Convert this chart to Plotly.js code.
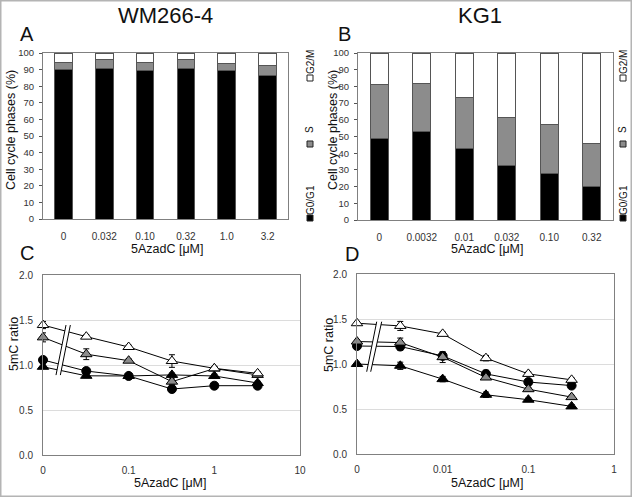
<!DOCTYPE html>
<html><head><meta charset="utf-8">
<script src="https://cdn.plot.ly/plotly-3.0.1.min.js"></script>
<style>html,body{margin:0;padding:0;background:#fff}#c{width:632px;height:497px}</style>
</head><body><div id="c"></div>
<script>
// ---- Data ----
const catsA = ["0","0.032","0.10","0.32","1.0","3.2"];
const g1A = [90.0, 90.8, 89.2, 90.4, 89.4, 86.5];
const sA  = [4.4, 5.4, 5.2, 5.6, 4.0, 5.7];
const g2A = [5.6, 3.8, 5.6, 4.0, 6.6, 7.8];

const catsB = ["0","0.0032","0.01","0.032","0.10","0.32"];
const g1B = [49.0, 53.0, 43.0, 32.4, 27.6, 20.0];
const sB  = [32.0, 28.6, 30.6, 29.0, 29.8, 25.6];
const g2B = [19.0, 18.4, 26.4, 38.6, 42.6, 54.4];

const doseC = [0, 0.032, 0.1, 0.32, 1, 3.2];
const cWhiteTri = [1.444, 1.315, 1.20, 1.044, 0.963, 0.907];
const cWhiteTriErr = [0.04, 0.02, 0.02, 0.07, 0.02, 0.02];
const cGrayTri = [1.307, 1.12, 1.048, 0.815, 0.96, 0.89];
const cGrayTriErr = [0.05, 0.06, 0.02, 0.03, 0.02, 0.02];
const cCircle = [1.056, 0.933, 0.878, 0.733, 0.77, 0.77];
const cCircleErr = [0.03, 0.02, 0.02, 0.02, 0.01, 0.02];
const cBlackTri = [0.98, 0.88, 0.878, 0.89, 0.878, 0.80];
const cBlackTriErr = [0.02, 0.02, 0.02, 0.02, 0.02, 0.02];

const doseD = [0, 0.0032, 0.01, 0.032, 0.1, 0.32];
const dWhiteTri = [1.453, 1.423, 1.335, 1.065, 0.89, 0.824];
const dWhiteTriErr = [0.02, 0.05, 0.02, 0.03, 0.02, 0.02];
const dGrayTri = [1.25, 1.238, 1.076, 0.85, 0.72, 0.632];
const dGrayTriErr = [0.02, 0.05, 0.06, 0.02, 0.02, 0.02];
const dCircle = [1.20, 1.194, 1.09, 0.89, 0.80, 0.76];
const dCircleErr = [0.02, 0.04, 0.04, 0.04, 0.02, 0.02];
const dBlackTri = [1.0, 0.98, 0.832, 0.658, 0.603, 0.529];
const dBlackTriErr = [0.02, 0.04, 0.03, 0.03, 0.02, 0.02];

const ticksC = [0.01, 0.1, 1, 10], tickTextC = ["0","0.1","1","10"];
const ticksD = [0.001, 0.01, 0.1, 1], tickTextD = ["0","0.01","0.1","1"];

// ---- Layout helpers ----
const W = 632, H = 497;
const px = v => v / W, py = v => 1 - v / H;
const FONT = "Liberation Sans, Arial, sans-serif";

// zero dose is drawn at the left end of the log axis
const zeroAt = (arr, floor) => arr.map(v => v === 0 ? floor : v);
const xC = zeroAt(doseC, ticksC[0]);
const xD = zeroAt(doseD, ticksD[0]);

const barLine = {color: "#555", width: 1};
function bars(cats, g1, s, g2, xa, ya) {
  return [
    {type: "bar", x: cats, y: g1, xaxis: xa, yaxis: ya, marker: {color: "#000", line: barLine}, showlegend: false},
    {type: "bar", x: cats, y: s,  xaxis: xa, yaxis: ya, marker: {color: "#8c8c8c", line: barLine}, showlegend: false},
    {type: "bar", x: cats, y: g2, xaxis: xa, yaxis: ya, marker: {color: "#fff", line: barLine}, showlegend: false}
  ];
}
function series(x, y, err, sym, fill, xa, ya) {
  return {type: "scatter", mode: "lines+markers", x: x, y: y, xaxis: xa, yaxis: ya,
    cliponaxis: false, showlegend: false,
    line: {color: "#000", width: 1},
    marker: {symbol: sym, size: sym === "circle" ? 9 : 10, color: fill, line: {color: "#000", width: 1}},
    error_y: {type: "data", array: err, visible: true, color: "#000", thickness: 1, width: 3}};
}

const traces = [
  ...bars(catsA, g1A, sA, g2A, "x", "y"),
  ...bars(catsB, g1B, sB, g2B, "x2", "y2"),
  series(xC, cBlackTri, cBlackTriErr, "triangle-up", "#000", "x3", "y3"),
  series(xC, cCircle, cCircleErr, "circle", "#000", "x3", "y3"),
  series(xC, cGrayTri, cGrayTriErr, "triangle-up", "#8c8c8c", "x3", "y3"),
  series(xC, cWhiteTri, cWhiteTriErr, "triangle-up", "#fff", "x3", "y3"),
  series(xD, dBlackTri, dBlackTriErr, "triangle-up", "#000", "x4", "y4"),
  series(xD, dCircle, dCircleErr, "circle", "#000", "x4", "y4"),
  series(xD, dGrayTri, dGrayTriErr, "triangle-up", "#8c8c8c", "x4", "y4"),
  series(xD, dWhiteTri, dWhiteTriErr, "triangle-up", "#fff", "x4", "y4")
];

const tf = {family: FONT, size: 10, color: "#333"};
const frame = {showline: true, mirror: true, linecolor: "#808080", linewidth: 1, zeroline: false};
const barX = (dom, anchor) => Object.assign({}, frame, {domain: dom, anchor: anchor, type: "category",
  tickfont: tf, ticks: "", showgrid: false, ticklabelstandoff: 8});
const barY = (dom, anchor) => Object.assign({}, frame, {domain: dom, anchor: anchor, range: [0, 100],
  dtick: 10, tickfont: Object.assign({}, tf, {size: 9.5}), ticks: "outside", ticklen: 3, tickcolor: "#555",
  showgrid: false, ticklabelstandoff: 3});
const logX = (dom, anchor, tv, tt) => Object.assign({}, frame, {domain: dom, anchor: anchor, type: "log",
  range: [Math.log10(tv[0]), Math.log10(tv[tv.length - 1])], tickvals: tv, ticktext: tt,
  tickfont: tf, ticks: "", showgrid: false, ticklabelstandoff: 6});
const ratioY = (dom, anchor) => Object.assign({}, frame, {domain: dom, anchor: anchor, range: [0, 2],
  dtick: 0.5, tickformat: ".1f", tickfont: tf, ticks: "", showgrid: true, gridcolor: "#dcdcdc",
  ticklabelstandoff: 7});

const domA = {x: [px(43), px(288)], y: [py(219), py(53)]};
const domB = {x: [px(358), px(613)], y: [py(220), py(53)]};
const domC = {x: [px(43), px(300)], y: [py(455), py(275)]};
const domD = {x: [px(357), px(614)], y: [py(454), py(274)]};

function ann(text, x, y, size, extra) {
  return Object.assign({text: text, x: px(x), y: py(y), xref: "paper", yref: "paper",
    showarrow: false, xanchor: "center", yanchor: "middle",
    font: {family: FONT, size: size, color: "#111"}}, extra || {});
}
const annotations = [
  ann("WM266-4", 165, 16, 22), ann("KG1", 480, 16, 22),
  ann("A", 27, 34, 20), ann("B", 344, 34, 20), ann("C", 27, 253, 20), ann("D", 352, 254, 20),
  ann("5AzadC [μM]", 167, 249, 12.5), ann("5AzadC [μM]", 487, 249, 12.5),
  ann("5AzadC [μM]", 170, 483, 12.5), ann("5AzadC [μM]", 487, 483, 12.5),
  ann("Cell cycle phases (%)", 11, 130, 12.5, {textangle: -90}),
  ann("Cell cycle phases (%)", 333, 130, 12.5, {textangle: -90}),
  ann("5mC ratio", 14, 344, 12.5, {textangle: -90}),
  ann("5mC ratio", 329, 345, 12.5, {textangle: -90})
];
const legendItems = [
  {label: "G0/G1", ty: 200, sy: 218, fill: "#000"},
  {label: "S", ty: 130, sy: 144, fill: "#8c8c8c"},
  {label: "G2/M", ty: 62, sy: 78, fill: "#fff"}
];
const shapes = [];
[310, 623].forEach(lx => {
  legendItems.forEach(it => {
    annotations.push(ann(it.label, lx, it.ty, 10, {textangle: -90}));
    shapes.push({type: "rect", xref: "paper", yref: "paper",
      x0: px(lx - 3), x1: px(lx + 3), y0: py(it.sy + 3), y1: py(it.sy - 3),
      fillcolor: it.fill, line: {color: "#222", width: 1}});
  });
});
// axis-break marks (domain-relative)
function brk(xa, ya, a0, a1, b0, b1, y0, y1) {
  shapes.push({type: "path", xref: xa + " domain", yref: ya + " domain",
    path: `M ${a0} ${y0} L ${b0} ${y0} L ${b1} ${y1} L ${a1} ${y1} Z`,
    fillcolor: "#fff", line: {width: 0}});
  shapes.push({type: "line", xref: xa + " domain", yref: ya + " domain", x0: a0, y0: y0, x1: a1, y1: y1, line: {color: "#000", width: 1}});
  shapes.push({type: "line", xref: xa + " domain", yref: ya + " domain", x0: b0, y0: y0, x1: b1, y1: y1, line: {color: "#000", width: 1}});
}
brk("x3", "y3", 0.0506, 0.0895, 0.0675, 0.1064, 0.444, 0.722);
brk("x4", "y4", 0.0377, 0.0767, 0.0533, 0.0961, 0.457, 0.735);
// outer border
shapes.push({type: "rect", xref: "paper", yref: "paper", x0: 0, x1: 1, y0: 0, y1: 1,
  line: {color: "#b4b4b4", width: 3}, fillcolor: "rgba(0,0,0,0)"});

const layout = {
  width: W, height: H, margin: {l: 0, r: 0, t: 0, b: 0},
  paper_bgcolor: "#fff", plot_bgcolor: "#fff", barmode: "stack", bargap: 0.57,
  font: {family: FONT},
  xaxis: barX(domA.x, "y"), yaxis: barY(domA.y, "x"),
  xaxis2: barX(domB.x, "y2"), yaxis2: barY(domB.y, "x2"),
  xaxis3: logX(domC.x, "y3", ticksC, tickTextC), yaxis3: ratioY(domC.y, "x3"),
  xaxis4: logX(domD.x, "y4", ticksD, tickTextD), yaxis4: ratioY(domD.y, "x4"),
  annotations: annotations, shapes: shapes
};
Plotly.newPlot("c", traces, layout, {displayModeBar: false, staticPlot: true});
</script></body></html>
